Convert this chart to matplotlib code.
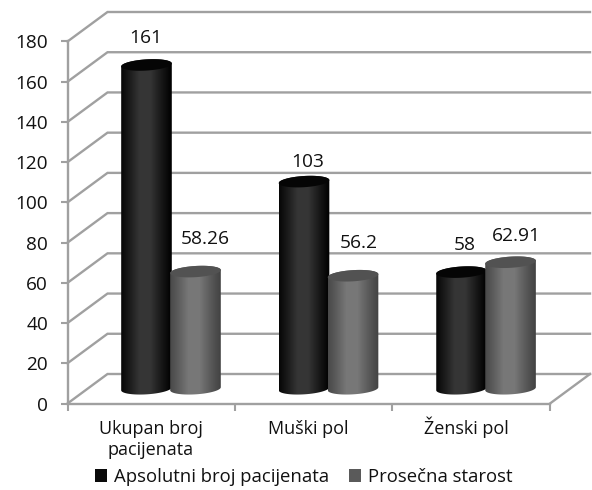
import numpy as np
import matplotlib
matplotlib.use("Agg")
import matplotlib.pyplot as plt
from matplotlib.patches import Patch, Polygon
from matplotlib.transforms import ScaledTranslation

plt.rcParams["font.family"] = ["Open Sans", "DejaVu Sans"]

categories = ["Ukupan broj\npacijenata", "Muški pol", "Ženski pol"]
series_names = ["Apsolutni broj pacijenata", "Prosečna starost"]
apsolutni = [161, 103, 58]
starost = [58.26, 56.2, 62.91]
value_ticks = list(range(0, 181, 20))
label_shift_px = [[(-1, 27), (10, 33)], [(4, 20), (6, 33)], [(3, 27), (6, 26)]]

W, H = 592, 490
PX_X = 1 / 157.5      # category units per pixel
PX_Y = 1 / 2.011      # value units per pixel
DEPTH_X = 40 * PX_X
DEPTH_Y = 29.5 * PX_Y
GRID = "#a0a0a0"
INK = "#111111"

fig = plt.figure(figsize=(W / 100, H / 100), dpi=100, facecolor="white")
ax = fig.add_axes([67.5 / W, (H - 403.5) / H, 482.5 / W, 362 / H], facecolor="none")
XLIM = (-0.53, 2.533)
YLIM = (0, 180)

# floor and side wall of the 3D box, then the back wall gridlines
for v in value_ticks:
    ax.plot([XLIM[0], XLIM[0] + DEPTH_X, XLIM[1] + DEPTH_X],
            [v, v + DEPTH_Y, v + DEPTH_Y],
            color=GRID, lw=1.7, clip_on=False, zorder=1, solid_joinstyle="miter")
ax.plot([XLIM[1], XLIM[1] + DEPTH_X], [0, DEPTH_Y], color=GRID, lw=1.7, clip_on=False, zorder=1)


def cylinder(xc, value, half_w, edge, mid, cap):
    """Shaded cylinder standing at mid depth of the box, in data coordinates."""
    x0 = xc + DEPTH_X / 2
    y0 = DEPTH_Y / 2
    b = 5.6 * PX_Y
    tilt = 0.06 * half_w / PX_X * PX_Y

    def arc(t, y):
        return np.column_stack([x0 + half_w * np.cos(t),
                                y + b * np.sin(t) + tilt * np.cos(t)])

    upper = arc(np.linspace(0, np.pi, 50), y0 + value)
    lower = arc(np.linspace(np.pi, 2 * np.pi, 50), y0)
    body = Polygon(np.vstack([upper, lower]), closed=True, transform=ax.transData,
                   facecolor="none", edgecolor="none")
    ax.add_patch(body)

    u = np.linspace(0, 1, 200)
    shade = 1 - np.abs(u - 0.47) / 0.53
    shade = np.clip(shade * 1.25, 0, 1) ** 1.1
    rgb = edge + (mid - edge) * shade
    img = np.repeat(rgb[None, :, None], 3, axis=2)
    im = ax.imshow(img, extent=(x0 - half_w, x0 + half_w, y0 - 2 * b, y0 + value + 2 * b),
                   aspect="auto", origin="lower", zorder=3, vmin=0, vmax=1,
                   interpolation="bilinear")
    im.set_clip_path(body)

    top = arc(np.linspace(0, 2 * np.pi, 100), y0 + value)
    ax.add_patch(Polygon(top, closed=True, facecolor=cap, edgecolor="none",
                         zorder=3, clip_on=False))
    return x0, y0 + value


HALF_W = 25.3 * PX_X
OFFSET = 24.5 * PX_X
positions = np.arange(len(categories))

for i in positions:
    a_x, a_top = cylinder(i - OFFSET, apsolutni[i], HALF_W, 0.0, 0.21, "#050505")
    s_x, s_top = cylinder(i + OFFSET, starost[i], HALF_W, 0.26, 0.47, "#525252")
    for (x, y, val, shift) in ((a_x, a_top, apsolutni[i], label_shift_px[i][0]),
                               (s_x, s_top, starost[i], label_shift_px[i][1])):
        ax.annotate(f"{val:g}", (x, y), xytext=(shift[0] * 0.72, shift[1] * 0.72),
                    textcoords="offset points", ha="center", va="center",
                    fontsize=13.8, color=INK, zorder=5, annotation_clip=False)

ax.set_xlim(*XLIM)
ax.set_ylim(*YLIM)

for side in ("top", "right"):
    ax.spines[side].set_visible(False)
for side in ("left", "bottom"):
    ax.spines[side].set_color(GRID)
    ax.spines[side].set_linewidth(1.7)
    ax.spines[side].set_zorder(2)

ax.set_yticks(value_ticks)
ax.tick_params(axis="y", length=5, width=1.5, color=GRID, pad=9, labelsize=13.7, labelcolor=INK)
ax.set_xticks(positions)
ax.set_xticklabels(categories, linespacing=1.18)
ax.set_xticks([XLIM[0], 0.533, 1.533, 2.533], minor=True)
ax.tick_params(axis="x", which="major", length=0, pad=12, labelsize=13, labelcolor=INK)
ax.tick_params(axis="x", which="minor", length=5, width=1.5, color=GRID)

# the caron on the capital letter pushes this label's first line down; lift it back
zenski = ax.get_xticklabels()[2]
zenski.set_transform(zenski.get_transform() + ScaledTranslation(0, 4 / 100, fig.dpi_scale_trans))

handles = [Patch(facecolor="#0a0a0a", label=series_names[0]),
           Patch(facecolor="#5a5a5a", label=series_names[1])]
fig.legend(handles=handles, loc="center left", bbox_to_anchor=(95 / W, (H - 477) / H), ncol=2,
           frameon=False, fontsize=13.35, handlelength=0.65, handleheight=0.65, handletextpad=0.35,
           columnspacing=1.1, borderpad=0, borderaxespad=0, labelcolor=INK)

fig.savefig("out.png", dpi=100, facecolor="white")
